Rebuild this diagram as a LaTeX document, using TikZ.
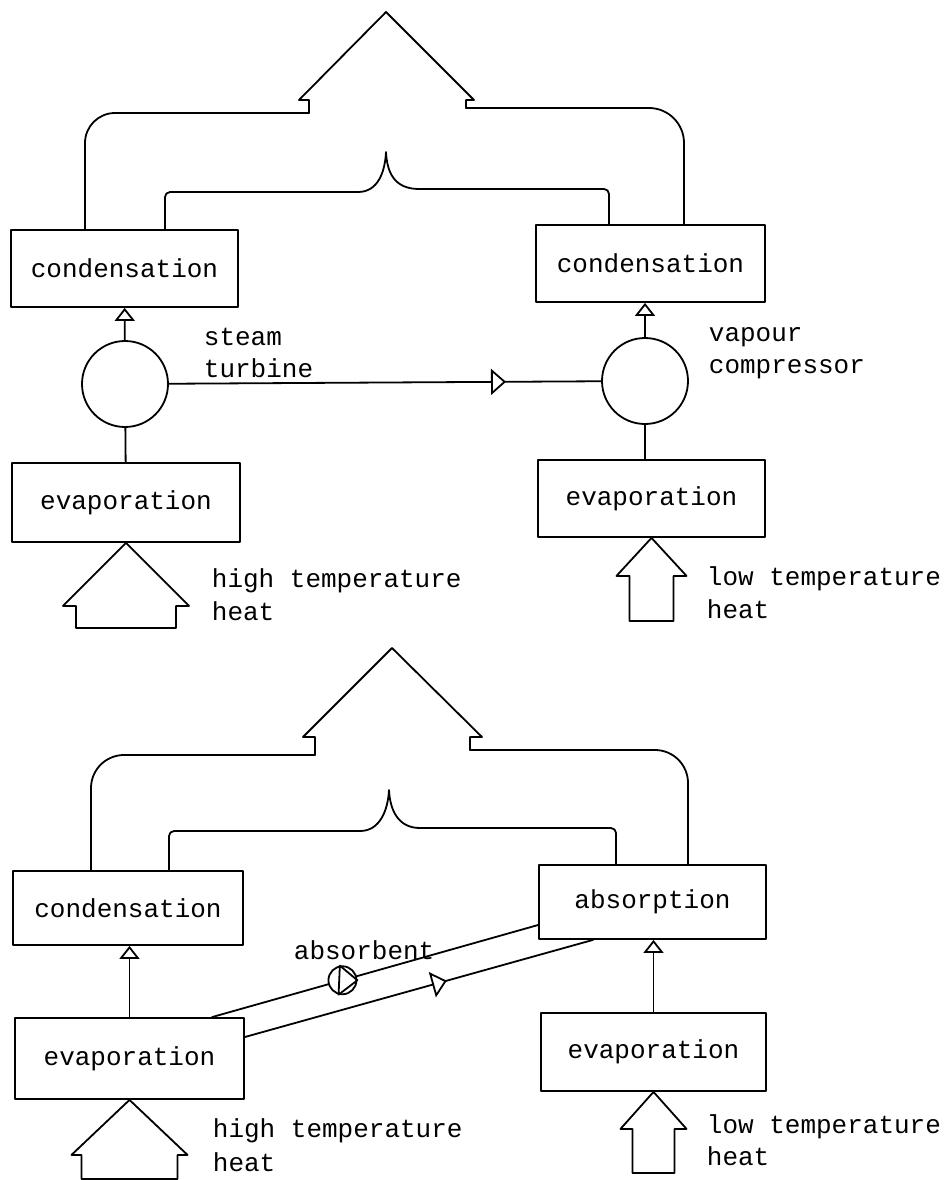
\documentclass[tikz,border=0pt]{standalone}
\usepackage{fontspec}
\setmonofont{Liberation Mono}
\usetikzlibrary{arrows.meta,decorations.markings}
\begin{document}
\begin{tikzpicture}[x=1pt, y=-1pt, line width=1.8pt, line cap=round, line join=round,
  txt/.style={font=\ttfamily\fontsize{26}{33}\selectfont},
  procbox/.style={draw, txt, inner sep=0pt},
  machine/.style={draw, circle, minimum size=86pt, inner sep=0pt},
  pump/.style={draw, circle, fill=white, minimum size=28pt, inner sep=0pt},
  lbl/.style={txt, align=left, anchor=base west, inner sep=0pt},
  uptip/.style={-{Triangle[open, length=13pt, width=20pt]}},
  midtip/.style={postaction={decorate}, decoration={markings,
    mark=at position #1 with {\arrow{Triangle[length=15pt, width=26pt, fill=white]}}}}]
\useasboundingbox (0,0) rectangle (944,1180);

\node[procbox, minimum width=227pt, minimum height=77pt] (lcond) at (124.5,268.5) {condensation};
\node[machine] (turb) at (125,384) {};
\node[procbox, minimum width=228pt, minimum height=79pt] (levap) at (126,502.5) {evaporation};
\node[procbox, minimum width=229pt, minimum height=77pt] (rcond) at (650.5,263.5) {condensation};
\node[machine] (comp) at (645,381) {};
\node[procbox, minimum width=227pt, minimum height=77pt] (revap) at (651.5,498.5) {evaporation};
\node[lbl, font=\ttfamily\fontsize{26}{32}\selectfont] (turbl) at (203,377) {steam\\turbine};
\node[lbl, font=\ttfamily\fontsize{26}{32}\selectfont] (compl) at (708,373) {vapour\\compressor};
\node[lbl] (hot1) at (211,620) {high temperature\\heat};
\node[lbl] (cold1) at (706,618) {low temperature\\heat};

\draw[uptip] (turb) -- (lcond);
\draw (turb) -- (levap);
\draw[midtip=0.78] (turb) -- (comp);
\draw[uptip] (comp.north) -- (comp.north |- rcond.south);
\draw (comp.south) -- (comp.south |- revap.north);
\draw (levap.south) -- ++(-63,63) -- ++(13,0) -- ++(0,22) -- ++(100,0) -- ++(0,-22) -- ++(13,0) -- cycle;
\draw (revap.south) -- ++(-35,38) -- ++(13,0) -- ++(0,45) -- ++(44,0) -- ++(0,-45) -- ++(13,0) -- cycle;
\draw[rounded corners=30pt] ([xshift=-39.5pt]lcond.north) |- (309,113);
\draw (309,113) -- (309,100) -- (299,100) -- (386,12) -- (474,100) -- (466,100) -- (466,108);
\draw[rounded corners=35pt] (466,108) -| ([xshift=33.5pt]rcond.north);
\draw[rounded corners=5pt] ([xshift=40.5pt]lcond.north) |- (358,192);
\draw (358,192) .. controls (378,192) and (385,172) .. (386,152) .. controls (387,172) and (394,189) .. (419,189);
\draw[rounded corners=5pt] (419,189) -| ([xshift=-41.5pt]rcond.north);

\node[procbox, minimum width=230pt, minimum height=74pt] (bcond) at (128,908) {condensation};
\node[procbox, minimum width=229pt, minimum height=81pt] (bevap) at (129.5,1058.5) {evaporation};
\node[procbox, minimum width=227pt, minimum height=74pt] (absorb) at (652.5,902) {absorption};
\node[procbox, minimum width=225pt, minimum height=78pt] (brevap) at (653.5,1052) {evaporation};
\node[lbl] (absl) at (293,959) {absorbent};
\node[lbl, font=\ttfamily\fontsize{26}{34}\selectfont] (hot2) at (212,1171) {high temperature\\heat};
\node[lbl, font=\ttfamily\fontsize{26}{32}\selectfont] (cold2) at (706,1165) {low temperature\\heat};

\draw[uptip] (bevap.north) -- (bevap.north |- bcond.south);
\draw[uptip] (brevap.north) -- (brevap.north |- absorb.south);
\draw ([xshift=82.5pt]bevap.north) -- node[pump, pos=0.4] (pmp) {} ([yshift=-23pt]absorb.west);
\draw (pmp.100) -- (pmp.0) -- (pmp.255) -- cycle;
\draw[midtip=0.58] ([yshift=21.5pt]bevap.east) -- ([xshift=-59.5pt]absorb.south);
\draw (bevap.south) -- ++(-58,55) -- ++(10,0) -- ++(0,24) -- ++(96,0) -- ++(0,-24) -- ++(10,0) -- cycle;
\draw (brevap.south) -- ++(-33,37) -- ++(12,0) -- ++(0,44) -- ++(42,0) -- ++(0,-44) -- ++(12,0) -- cycle;
\draw[rounded corners=33pt] ([xshift=-37pt]bcond.north) |- (315,755);
\draw (315,755) -- (315,737) -- (303,737) -- (392,648) -- (482,737) -- (470,737) -- (470,750);
\draw[rounded corners=33pt] (470,750) -| ([xshift=35.5pt]absorb.north);
\draw[rounded corners=5pt] ([xshift=41pt]bcond.north) |- (360,831);
\draw (360,831) .. controls (380,831) and (388,810) .. (389,790) .. controls (390,810) and (398,828) .. (420,828);
\draw[rounded corners=5pt] (420,828) -| ([xshift=-36.5pt]absorb.north);
\end{tikzpicture}
\end{document}
